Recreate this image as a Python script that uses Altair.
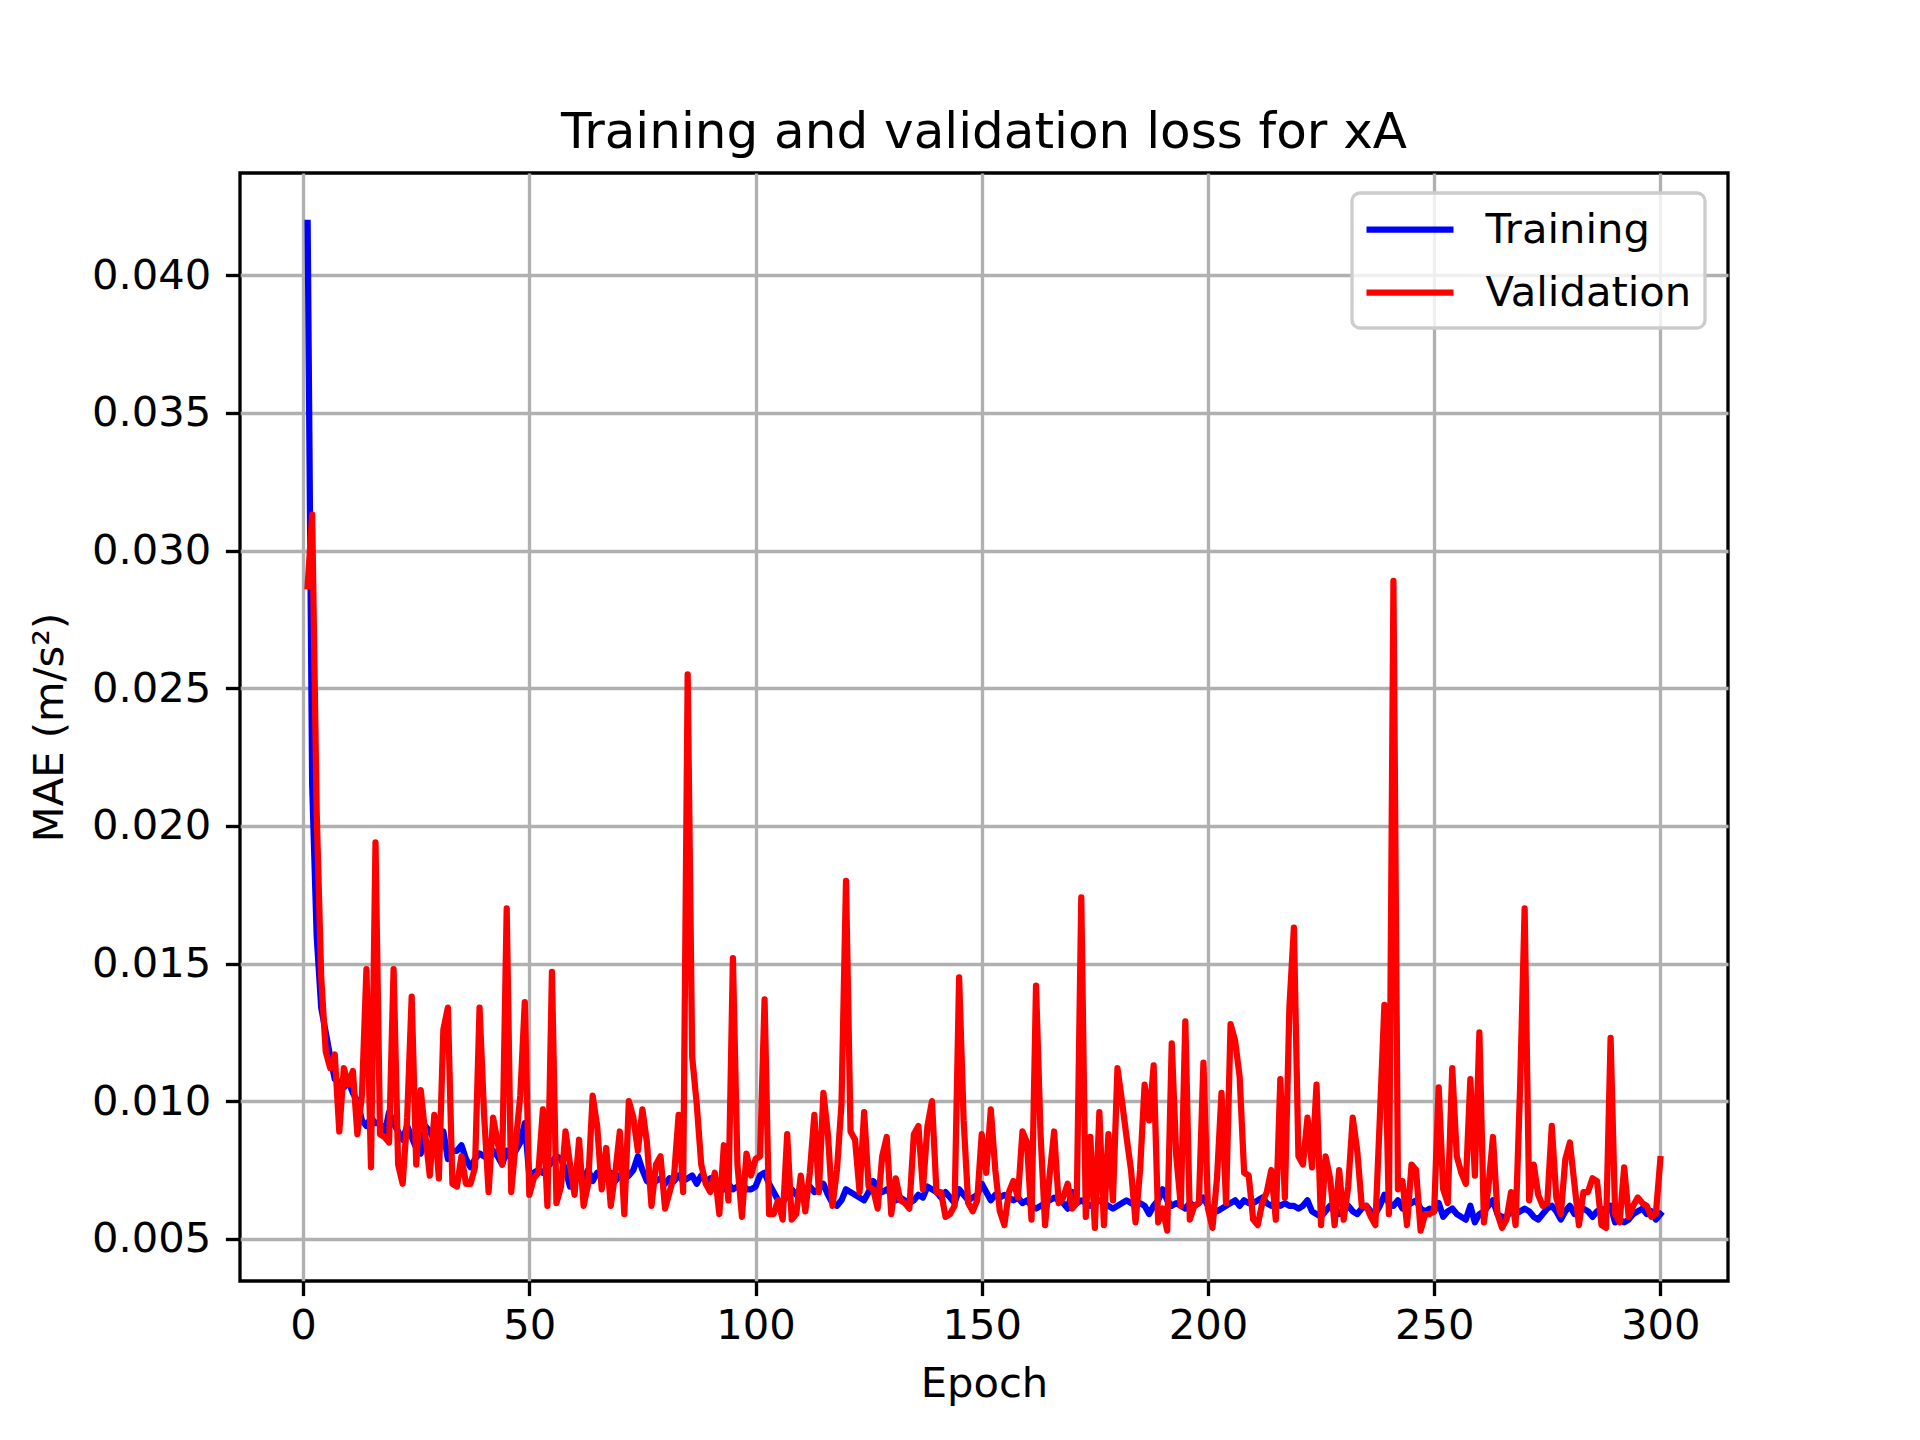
import altair as alt
import pandas as pd

epochs = list(range(1, 301))

training = [
    0.0419, 0.0215, 0.0160, 0.0134, 0.0125, 0.0116, 0.0108, 0.0107, 0.0105, 0.0107,
    0.0103, 0.0100, 0.0093, 0.0091, 0.0094, 0.0092, 0.0092, 0.0088, 0.0096, 0.0092,
    0.0089, 0.0086, 0.0091, 0.0087, 0.0083, 0.0081, 0.0091, 0.0089, 0.0086, 0.0085,
    0.0089, 0.0079, 0.0082, 0.0082, 0.0084, 0.0079, 0.0076, 0.0079, 0.0081, 0.0080,
    0.0079, 0.0082, 0.0080, 0.0077, 0.0082, 0.0079, 0.0082, 0.0085, 0.0092, 0.0073,
    0.0074, 0.0075, 0.0074, 0.0076, 0.0078, 0.0080, 0.0079, 0.0075, 0.0069, 0.0073,
    0.0076, 0.0072, 0.0075, 0.0071, 0.0074, 0.0073, 0.0072, 0.0074, 0.0071, 0.0073,
    0.0072, 0.0073, 0.0075, 0.0080, 0.0075, 0.0071, 0.0070, 0.0071, 0.0072, 0.0070,
    0.0072, 0.0071, 0.0073, 0.0071, 0.0072, 0.0073, 0.0070, 0.0073, 0.0071, 0.0072,
    0.0070, 0.0069, 0.0068, 0.0070, 0.0068, 0.0069, 0.0070, 0.0068, 0.0068, 0.0069,
    0.0073, 0.0074, 0.0070, 0.0067, 0.0064, 0.0063, 0.0066, 0.0068, 0.0066, 0.0068,
    0.0066, 0.0069, 0.0067, 0.0068, 0.0070, 0.0066, 0.0063, 0.0062, 0.0064, 0.0068,
    0.0067, 0.0066, 0.0065, 0.0064, 0.0067, 0.0071, 0.0069, 0.0067, 0.0068, 0.0066,
    0.0064, 0.0065, 0.0064, 0.0063, 0.0064, 0.0066, 0.0065, 0.0069, 0.0068, 0.0067,
    0.0065, 0.0067, 0.0065, 0.0063, 0.0068, 0.0066, 0.0064, 0.0065, 0.0066, 0.0070,
    0.0067, 0.0064, 0.0066, 0.0065, 0.0066, 0.0065, 0.0064, 0.0065, 0.0063, 0.0064,
    0.0062, 0.0061, 0.0062, 0.0063, 0.0064, 0.0065, 0.0064, 0.0063, 0.0061, 0.0067,
    0.0063, 0.0064, 0.0063, 0.0062, 0.0063, 0.0064, 0.0063, 0.0062, 0.0061, 0.0062,
    0.0063, 0.0064, 0.0063, 0.0062, 0.0063, 0.0062, 0.0059, 0.0062, 0.0064, 0.0068,
    0.0064, 0.0062, 0.0063, 0.0062, 0.0061, 0.0063, 0.0062, 0.0063, 0.0065, 0.0062,
    0.0061, 0.0060, 0.0061, 0.0062, 0.0063, 0.0064, 0.0062, 0.0064, 0.0063, 0.0063,
    0.0064, 0.0065, 0.0063, 0.0062, 0.0063, 0.0062, 0.0063, 0.0062, 0.0062, 0.0061,
    0.0062, 0.0064, 0.0060, 0.0059, 0.0058, 0.0060, 0.0062, 0.0060, 0.0059, 0.0061,
    0.0062, 0.0060, 0.0059, 0.0061, 0.0062, 0.0060, 0.0059, 0.0062, 0.0066, 0.0063,
    0.0062, 0.0064, 0.0061, 0.0062, 0.0063, 0.0064, 0.0061, 0.0060, 0.0061, 0.0060,
    0.0063, 0.0058, 0.0060, 0.0061, 0.0059, 0.0058, 0.0057, 0.0062, 0.0056, 0.0059,
    0.0060, 0.0062, 0.0064, 0.0059, 0.0058, 0.0058, 0.0060, 0.0059, 0.0060, 0.0061,
    0.0060, 0.0058, 0.0057, 0.0059, 0.0061, 0.0062, 0.0060, 0.0057, 0.0060, 0.0062,
    0.0059, 0.0060, 0.0061, 0.0060, 0.0058, 0.0060, 0.0061, 0.0060, 0.0062, 0.0056,
    0.0057, 0.0056, 0.0057, 0.0059, 0.0060, 0.0061, 0.0059, 0.0060, 0.0057, 0.0059,
]

validation = [
    0.0287, 0.0313, 0.0205, 0.0145, 0.0118, 0.0112, 0.0117, 0.0089, 0.0112, 0.0106,
    0.0111, 0.0088, 0.0102, 0.0148, 0.0076, 0.0194, 0.0088, 0.0087, 0.0085, 0.0148,
    0.0077, 0.0070, 0.0094, 0.0138, 0.0077, 0.0104, 0.0088, 0.0073, 0.0095, 0.0072,
    0.0126, 0.0134, 0.0070, 0.0069, 0.0080, 0.0070, 0.0070, 0.0076, 0.0134, 0.0095,
    0.0067, 0.0094, 0.0085, 0.0077, 0.0170, 0.0067, 0.0085, 0.0102, 0.0136, 0.0066,
    0.0072, 0.0074, 0.0097, 0.0062, 0.0147, 0.0063, 0.0069, 0.0089, 0.0077, 0.0066,
    0.0086, 0.0062, 0.0070, 0.0102, 0.0091, 0.0068, 0.0083, 0.0062, 0.0074, 0.0089,
    0.0059, 0.0100, 0.0094, 0.0082, 0.0097, 0.0085, 0.0062, 0.0077, 0.0080, 0.0061,
    0.0067, 0.0073, 0.0095, 0.0067, 0.0255, 0.0116, 0.0099, 0.0077, 0.0070, 0.0067,
    0.0074, 0.0059, 0.0084, 0.0064, 0.0152, 0.0077, 0.0058, 0.0081, 0.0073, 0.0079,
    0.0080, 0.0137, 0.0059, 0.0059, 0.0064, 0.0057, 0.0088, 0.0057, 0.0059, 0.0073,
    0.0060, 0.0074, 0.0095, 0.0067, 0.0103, 0.0088, 0.0062, 0.0075, 0.0099, 0.0180,
    0.0089, 0.0086, 0.0067, 0.0096, 0.0069, 0.0068, 0.0061, 0.0080, 0.0087, 0.0059,
    0.0072, 0.0064, 0.0063, 0.0061, 0.0088, 0.0091, 0.0068, 0.0091, 0.0100, 0.0067,
    0.0067, 0.0058, 0.0059, 0.0062, 0.0145, 0.0093, 0.0063, 0.0060, 0.0064, 0.0088,
    0.0074, 0.0097, 0.0075, 0.0060, 0.0055, 0.0067, 0.0071, 0.0065, 0.0089, 0.0085,
    0.0057, 0.0142, 0.0088, 0.0055, 0.0073, 0.0089, 0.0063, 0.0065, 0.0070, 0.0061,
    0.0063, 0.0174, 0.0058, 0.0087, 0.0054, 0.0096, 0.0055, 0.0088, 0.0064, 0.0112,
    0.0100, 0.0087, 0.0075, 0.0056, 0.0075, 0.0106, 0.0093, 0.0113, 0.0056, 0.0061,
    0.0053, 0.0121, 0.0080, 0.0062, 0.0129, 0.0057, 0.0062, 0.0063, 0.0114, 0.0061,
    0.0054, 0.0072, 0.0103, 0.0063, 0.0128, 0.0122, 0.0109, 0.0074, 0.0073, 0.0057,
    0.0055, 0.0063, 0.0067, 0.0075, 0.0057, 0.0108, 0.0065, 0.0134, 0.0163, 0.0080,
    0.0077, 0.0094, 0.0076, 0.0106, 0.0055, 0.0080, 0.0072, 0.0055, 0.0075, 0.0057,
    0.0069, 0.0094, 0.0082, 0.0062, 0.0062, 0.0058, 0.0055, 0.0094, 0.0135, 0.0059,
    0.0289, 0.0068, 0.0071, 0.0055, 0.0077, 0.0075, 0.0053, 0.0059, 0.0059, 0.0060,
    0.0105, 0.0068, 0.0063, 0.0112, 0.0080, 0.0074, 0.0070, 0.0108, 0.0073, 0.0125,
    0.0056, 0.0069, 0.0087, 0.0059, 0.0054, 0.0057, 0.0067, 0.0055, 0.0105, 0.0170,
    0.0064, 0.0077, 0.0066, 0.0062, 0.0063, 0.0091, 0.0065, 0.0059, 0.0079, 0.0085,
    0.0070, 0.0055, 0.0067, 0.0067, 0.0072, 0.0071, 0.0055, 0.0054, 0.0123, 0.0059,
    0.0056, 0.0076, 0.0058, 0.0062, 0.0065, 0.0063, 0.0062, 0.0058, 0.0059, 0.0079,
]

series_names = ["Training", "Validation"]
series_colors = ["#0000ff", "#ff0000"]
x_ticks = [0, 50, 100, 150, 200, 250, 300]
y_ticks = [0.005, 0.010, 0.015, 0.020, 0.025, 0.030, 0.035, 0.040]

df = pd.DataFrame({
    "Epoch": epochs + epochs,
    "MAE": training + validation,
    "Series": [series_names[0]] * len(epochs) + [series_names[1]] * len(epochs),
})

FONT = "DejaVu Sans"
PT = 300 / 72.0
LABEL_SIZE = 10 * PT
TITLE_SIZE = 12 * PT
LINE_W = 1.5 * PT
THIN = 0.8 * PT
TICK = 3.5 * PT

x_enc = alt.X(
    "Epoch:Q",
    scale=alt.Scale(domain=[-13.95, 314.95], nice=False, zero=False),
    axis=alt.Axis(values=x_ticks, format="d", title="Epoch", labelPadding=10, titlePadding=16),
)
y_enc = alt.Y(
    "MAE:Q",
    scale=alt.Scale(domain=[0.00347, 0.04371], nice=False, zero=False),
    axis=alt.Axis(values=y_ticks, format=".3f", title="MAE (m/s²)", labelPadding=TICK, titlePadding=20),
)
color_enc = alt.Color(
    "Series:N",
    scale=alt.Scale(domain=series_names, range=series_colors),
    legend=alt.Legend(
        title=None,
        orient="none",
        legendX=1112,
        legendY=20,
        padding=13,
        symbolType="M-2.175,0H2.175",
        symbolSize=1600,
        symbolOffset=21.5,
        symbolStrokeWidth=LINE_W,
        labelFontSize=LABEL_SIZE,
        labelFont=FONT,
        labelColor="black",
        labelOffset=52,
        labelLimit=600,
        rowPadding=17,
        strokeColor="#cccccc",
        fillColor="rgba(255,255,255,0.8)",
        cornerRadius=8,
    ),
)

base = alt.Chart(df)
train_layer = base.transform_filter(alt.datum.Series == "Training").mark_line(
    strokeWidth=LINE_W, strokeJoin="round", strokeCap="square"
).encode(x=x_enc, y=y_enc, color=color_enc)
val_layer = base.transform_filter(alt.datum.Series == "Validation").mark_line(
    strokeWidth=LINE_W, strokeJoin="round", strokeCap="square"
).encode(x=x_enc, y=y_enc, color=color_enc)

chart = alt.layer(train_layer, val_layer).properties(
    width=1488,
    height=1108,
    background="white",
    autosize=alt.AutoSizeParams(type="none"),
    padding={"left": 232, "top": 165, "right": 184, "bottom": 151},
    title=alt.TitleParams(
        text="Training and validation loss for xA",
        font=FONT,
        fontSize=TITLE_SIZE,
        fontWeight="normal",
        color="black",
        anchor="middle",
        frame="group",
        baseline="alphabetic",
        offset=25,
        dy=50,
    ),
).configure_view(
    stroke="black", strokeWidth=THIN, fill="white"
).configure_axis(
    grid=True,
    gridColor="#b0b0b0",
    gridWidth=THIN,
    gridOpacity=1,
    domain=False,
    ticks=True,
    tickColor="black",
    tickWidth=THIN,
    tickSize=TICK,
    labelFont=FONT,
    labelFontSize=LABEL_SIZE,
    labelColor="black",
    titleFont=FONT,
    titleFontSize=LABEL_SIZE,
    titleFontWeight="normal",
    titleColor="black",
).configure_legend(
    strokeWidth=THIN,
)

chart.save("out.html", embed_options={"renderer": "svg", "actions": False})
